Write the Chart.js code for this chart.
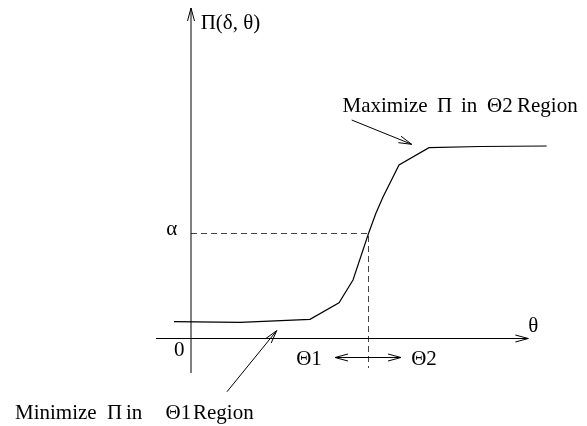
<!DOCTYPE html>
<html>
<head>
<meta charset="utf-8">
<script src="https://cdn.jsdelivr.net/npm/chart.js@4/dist/chart.umd.min.js"></script>
<style>
  html, body { margin: 0; padding: 0; background: #fff; }
  canvas { display: block; }
</style>
</head>
<body>
<canvas id="curve" width="587" height="426"></canvas>
<script>
// theta on x, Pi(delta, theta) on y, both in arbitrary units
const thetaVals = [-1.7, 4.9, 11.9, 14.8, 16.2, 17.2, 17.75, 18.5, 19.2, 20.05, 20.8, 23.8, 28.9, 35.57];
const piVals = [1.68, 1.62, 1.92, 3.58, 5.85, 8.85, 10.5, 12.55, 14.15, 15.85, 17.35, 19.08, 19.2, 19.25];
const alphaLevel = 10.5;
const thetaCut = 17.75;
const xAxisRange = [-3.5, 33.73];
const yAxisRange = [-3.45, 33.05];

const FONT = '21px "Liberation Serif", "Times New Roman", serif';

// text pieces: [text, x, y, align]
const labels = [
  ['Π(δ, θ)', 0.97, 31.0, 'left'],
  ['α', -1.93, 10.4, 'center'],
  ['0', -1.17, -1.75, 'center'],
  ['θ', 34.23, 0.68, 'center'],
  ['Θ1', 11.8, -2.6, 'center'],
  ['Θ2', 23.3, -2.6, 'center'],
  ['Maximize', 15.15, 22.7, 'left'],
  ['Π', 24.6, 22.7, 'left'],
  ['in', 27.0, 22.7, 'left'],
  ['Θ2', 29.6, 22.7, 'left'],
  ['Region', 32.6, 22.7, 'left'],
  ['Minimize', -17.6, -8.0, 'left'],
  ['Π', -8.4, -8.0, 'left'],
  ['in', -6.5, -8.0, 'left'],
  ['Θ1', -2.55, -8.0, 'left'],
  ['Region', 0.2, -8.0, 'left']
];

// pointer arrows: [fromX, fromY, toX, toY, headAtStart]
const pointers = [
  [16.07, 21.85, 22.07, 19.42, false],
  [3.6, -5.32, 8.57, 0.78, false],
  [xAxisRange[0], 0, xAxisRange[1], 0, false],
  [0, yAxisRange[0], 0, yAxisRange[1], false],
  [14.4, -1.9, 21.0, -1.9, true]
];

function head(ctx, x1, y1, x2, y2, len, half) {
  const a = Math.atan2(y2 - y1, x2 - x1);
  const c = Math.cos(a), s = Math.sin(a);
  ctx.beginPath();
  ctx.moveTo(x2 - len * c - half * s, y2 - len * s + half * c);
  ctx.lineTo(x2, y2);
  ctx.lineTo(x2 - len * c + half * s, y2 - len * s - half * c);
  ctx.stroke();
}

const figurePlugin = {
  id: 'figure',
  afterDatasetsDraw(chart) {
    const ctx = chart.ctx;
    const xs = chart.scales.x, ys = chart.scales.y;
    const px = v => xs.getPixelForValue(v);
    const py = v => ys.getPixelForValue(v);
    ctx.save();
    ctx.strokeStyle = '#000';
    ctx.lineWidth = 1;
    pointers.forEach(p => {
      const x1 = px(p[0]), y1 = py(p[1]), x2 = px(p[2]), y2 = py(p[3]);
      ctx.beginPath();
      ctx.moveTo(x1, y1);
      ctx.lineTo(x2, y2);
      ctx.stroke();
      head(ctx, x1, y1, x2, y2, 13, 3.5);
      if (p[4]) head(ctx, x2, y2, x1, y1, 13, 3.5);
    });
    ctx.fillStyle = '#000';
    ctx.font = FONT;
    ctx.textBaseline = 'alphabetic';
    labels.forEach(l => {
      ctx.textAlign = l[3];
      ctx.fillText(l[0], px(l[1]), py(l[2]));
    });
    ctx.restore();
  }
};

new Chart(document.getElementById('curve'), {
  type: 'scatter',
  data: {
    datasets: [
      {
        data: thetaVals.map((t, i) => ({ x: t, y: piVals[i] })),
        showLine: true,
        borderColor: '#000',
        borderWidth: 1.2,
        pointRadius: 0,
        tension: 0
      },
      {
        data: [{ x: 0, y: alphaLevel }, { x: thetaCut, y: alphaLevel }, { x: thetaCut, y: -2.95 }],
        showLine: true,
        borderColor: '#444',
        borderWidth: 1,
        borderDash: [6, 4],
        pointRadius: 0,
        tension: 0
      }
    ]
  },
  options: {
    responsive: false,
    animation: false,
    devicePixelRatio: 1,
    layout: { padding: 0 },
    plugins: { legend: { display: false }, tooltip: { enabled: false } },
    scales: {
      x: { type: 'linear', display: false, min: -19.1, max: 39.6 },
      y: { type: 'linear', display: false, min: -8.75, max: 33.85 }
    }
  },
  plugins: [figurePlugin]
});
</script>
</body>
</html>
